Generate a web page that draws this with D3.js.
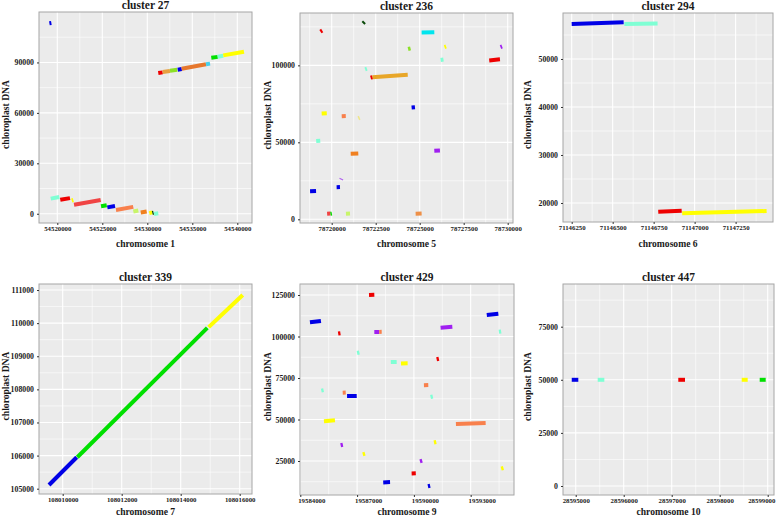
<!DOCTYPE html>
<html><head><meta charset="utf-8">
<script src="https://cdn.jsdelivr.net/npm/d3@7/dist/d3.min.js"></script>
<style>
body{margin:0;background:#fff}
text{font-family:"Liberation Serif","Times New Roman",serif;font-weight:bold;fill:#1a1a1a}
</style>
</head><body>
<svg id="chart" width="778" height="519"></svg>
<script>
// ---------- DATA ----------
const titles = ["cluster 27","cluster 236","cluster 294","cluster 339","cluster 429","cluster 447"];
const xLabels = ["chromosome 1","chromosome 5","chromosome 6","chromosome 7","chromosome 9","chromosome 10"];

const xTicks27 = [54520000,54525000,54530000,54535000,54540000];
const yTicks27 = [0,30000,60000,90000];
const xTicks236 = [78720000,78722500,78725000,78727500,78730000];
const yTicks236 = [0,50000,100000];
const xTicks294 = [71146250,71146500,71146750,71147000,71147250];
const yTicks294 = [20000,30000,40000,50000];
const xTicks339 = [108010000,108012000,108014000,108016000];
const yTicks339 = [105000,106000,107000,108000,109000,110000,111000];
const xTicks429 = [19584000,19587000,19590000,19593000];
const yTicks429 = [25000,50000,75000,100000,125000];
const xTicks447 = [28595000,28596000,28597000,28598000,28599000];
const yTicks447 = [0,25000,50000,75000];

const xDomains = [[54517967,54541633],[78718199,78730301],[71146197,71147478],[108009197,108016417],[19583984,19595288],[28594735,28599131]];
const yDomains = [[-5500,120000],[-2400,134000],[16040,59580],[104840,111182],[4518,131627],[-4237,95100]];

// segments: [colour key, chromosome start, chromosome end, chloroplast start, chloroplast end]
const seg27 = [
 ["blue",54519120,54519340,113300,113500],
 ["aqua",54519270,54520220,9000,10000],
 ["red",54520330,54521410,8300,9300],
 ["yellow",54521600,54521780,7900,8200],
 ["tomato",54521860,54524820,5300,8200],
 ["green",54524860,54525490,4500,5100],
 ["blue",54525560,54526410,3800,4600],
 ["coral",54526520,54528440,2200,4100],
 ["palegreen",54528450,54529000,1300,1900],
 ["orange",54529270,54529930,700,1300],
 ["yellow",54530220,54530550,400,800],
 ["darkgreen",54530560,54530700,450,650],
 ["aqua",54530750,54531220,-100,300],
 ["red",54531220,54531700,83700,84100],
 ["goldorange",54531710,54532520,84300,84900],
 ["yellowgreen",54532520,54533330,85000,85600],
 ["blue",54533380,54533820,85700,86100],
 ["chocolate",54533820,54536520,86300,88900],
 ["skyblue",54536520,54536970,88900,89300],
 ["green",54537110,54537820,92800,93300],
 ["aqua",54537820,54538440,93400,94000],
 ["yellow",54538440,54540740,94200,96300]
];
const seg236 = [
 ["darkgreen",78721780,78721860,127300,128200],
 ["red",78719360,78719460,121900,122600],
 ["cyan",78725110,78725830,121300,121500],
 ["yellow",78726410,78726500,111900,112300],
 ["purple",78729590,78729680,111900,112300],
 ["yellowgreen",78724340,78724480,110600,111000],
 ["aqua",78726190,78726350,103500,103800],
 ["red",78728950,78729560,103200,103900],
 ["aqua",78721900,78722000,97400,97800],
 ["goldenrod",78722310,78724320,92200,93900],
 ["red",78722210,78722310,92000,92300],
 ["blue",78724540,78724730,72600,72800],
 ["yellow",78719430,78719720,68700,68900],
 ["coral",78720570,78720800,67000,67100],
 ["khaki",78721510,78721590,65600,66000],
 ["aqua",78719120,78719350,50900,51100],
 ["orange",78721080,78721510,42500,42700],
 ["purple",78725830,78726150,44450,44650],
 ["mediumorchid",78720530,78720560,25800,26500],
 ["blue",78720280,78720470,20900,21000],
 ["blue",78718770,78719110,18300,18450],
 ["tomato",78719740,78719930,3550,3700],
 ["green",78719930,78720010,3550,3700],
 ["palegreen",78720810,78721040,3550,3700],
 ["sandy",78724770,78725110,3550,3700]
];
const seg294 = [
 ["blue",71146250,71146567,57300,57650],
 ["aqua",71146571,71146774,57300,57400],
 ["red",71146778,71146921,18200,18400],
 ["yellow",71146924,71147439,17850,18330]
];
const seg339 = [
 ["blue",108009536,108010475,105112,105950],
 ["green",108010495,108014902,105950,109855],
 ["yellow",108014949,108016102,109880,110852]
];
const seg429 = [
 ["blue",19584510,19585090,108600,109400],
 ["red",19587630,19587910,125000,125100],
 ["red",19586000,19586120,101800,102000],
 ["purple",19587910,19588170,102700,102750],
 ["coral",19588170,19588300,102750,102800],
 ["purple",19591410,19592030,105300,105900],
 ["blue",19593850,19594460,112950,113700],
 ["aqua",19594490,19594610,102800,103000],
 ["aqua",19587000,19587120,90100,90400],
 ["aqua",19588780,19589090,84600,84700],
 ["yellow",19589320,19589670,83800,83900],
 ["red",19591200,19591320,86300,86600],
 ["aqua",19585110,19585230,67400,67700],
 ["coral",19586240,19586400,66100,66200],
 ["blue",19586470,19586980,64100,64200],
 ["coral",19590530,19590760,70700,70800],
 ["aqua",19590880,19591000,63600,63900],
 ["yellow",19585250,19585830,48900,49500],
 ["coral",19592220,19593790,47300,47900],
 ["purple",19586130,19586250,34500,34800],
 ["yellow",19587300,19587420,29000,29400],
 ["yellow",19591060,19591180,36100,36400],
 ["purple",19590320,19590440,24800,25200],
 ["yellow",19594610,19594730,20400,20800],
 ["red",19589880,19590100,17500,17600],
 ["blue",19588380,19588740,12100,12300],
 ["blue",19590740,19590860,9800,10100]
];
const seg447 = [
 ["blue",28594917,28595054,50000,50000],
 ["aqua",28595458,28595596,50000,50000],
 ["red",28597137,28597277,50000,50000],
 ["yellow",28598458,28598583,50000,50000],
 ["green",28598833,28598958,50000,50000]
];

// ---------- STYLE / LAYOUT ----------
const palette = {
 blue:"#0000E6", aqua:"#7FFFD4", red:"#EE0000", tomato:"#F04444", yellow:"#FFFF00",
 green:"#00E000", coral:"#F8804C", palegreen:"#C8F56A", orange:"#F08020",
 darkgreen:"#0A4A0A", goldorange:"#E8A040", yellowgreen:"#8CE028", chocolate:"#E6782E",
 skyblue:"#48D0EC", cyan:"#00E5EE", goldenrod:"#E8A628", purple:"#A020F0",
 mediumorchid:"#B060F0", khaki:"#EEE68A", sandy:"#EE9048"
};
const layout = [
 {l:39,t:12,r:252,b:223,ylx:8.5,lblDx:0,xly:24},
 {l:300,t:13,r:513,b:223,ylx:271,lblDx:0,xly:24},
 {l:563,t:13,r:773,b:222,ylx:531,lblDx:0,xly:24.5},
 {l:39,t:284,r:252,b:494,ylx:8.5,lblDx:0,xly:21},
 {l:300,t:284,r:514,b:495,ylx:271,lblDx:11,xly:20},
 {l:563,t:284,r:774,b:495,ylx:531,lblDx:0,xly:20}
];
const segs = [seg27,seg236,seg294,seg339,seg429,seg447];
const xTickSets = [xTicks27,xTicks236,xTicks294,xTicks339,xTicks429,xTicks447];
const yTickSets = [yTicks27,yTicks236,yTicks294,yTicks339,yTicks429,yTicks447];

const svg = d3.select("#chart");

function minors(ticks, dom){
  const step = ticks[1]-ticks[0];
  const out = [];
  for(let i=-1;i<ticks.length;i++){
    const v = ticks[0]+step*i+step/2;
    if(v>Math.min(dom[0],dom[1]) && v<Math.max(dom[0],dom[1])) out.push(v);
  }
  return out;
}

layout.forEach((L,i)=>{
  const g = svg.append("g");
  const x = d3.scaleLinear().domain(xDomains[i]).range([L.l,L.r]);
  const y = d3.scaleLinear().domain(yDomains[i]).range([L.b,L.t]);
  const xt = xTickSets[i], yt = yTickSets[i];

  g.append("rect").attr("x",L.l).attr("y",L.t).attr("width",L.r-L.l).attr("height",L.b-L.t).attr("fill","#EBEBEB");

  g.selectAll(null).data(minors(xt,xDomains[i])).enter().append("line")
   .attr("x1",d=>x(d)).attr("x2",d=>x(d)).attr("y1",L.t).attr("y2",L.b)
   .attr("stroke","#fff").attr("stroke-width",0.6);
  g.selectAll(null).data(minors(yt,yDomains[i])).enter().append("line")
   .attr("y1",d=>y(d)).attr("y2",d=>y(d)).attr("x1",L.l).attr("x2",L.r)
   .attr("stroke","#fff").attr("stroke-width",0.6);
  g.selectAll(null).data(xt).enter().append("line")
   .attr("x1",d=>x(d)).attr("x2",d=>x(d)).attr("y1",L.t).attr("y2",L.b)
   .attr("stroke","#fff").attr("stroke-width",1.1);
  g.selectAll(null).data(yt).enter().append("line")
   .attr("y1",d=>y(d)).attr("y2",d=>y(d)).attr("x1",L.l).attr("x2",L.r)
   .attr("stroke","#fff").attr("stroke-width",1.1);

  g.selectAll(null).data(segs[i]).enter().append("line")
   .attr("x1",d=>x(d[1])).attr("x2",d=>x(d[2]))
   .attr("y1",d=>y(d[3])).attr("y2",d=>y(d[4]))
   .attr("stroke",d=>palette[d[0]]).attr("stroke-width",4).attr("stroke-linecap","butt");

  g.append("rect").attr("x",L.l).attr("y",L.t).attr("width",L.r-L.l).attr("height",L.b-L.t)
   .attr("fill","none").attr("stroke","#A6A6A6").attr("stroke-width",1);

  const ax = g.append("g").attr("transform",`translate(0,${L.b})`)
    .call(d3.axisBottom(x).tickValues(xt).tickSize(2).tickPadding(1).tickFormat(d3.format("d")));
  ax.select(".domain").remove();
  ax.selectAll("line").attr("stroke","#333");
  ax.selectAll("text").attr("font-size","6.8px").attr("dx",L.lblDx)
    .style("font-family",'"Liberation Serif",serif').style("font-weight","bold").attr("fill","#1a1a1a");
  // keep tick labels inside the picture
  ax.selectAll("text").each(function(){
    const bb = this.getBBox();
    const tx = +this.parentNode.getAttribute("transform").match(/translate\(([-\d.]+)/)[1];
    const over = tx + bb.x + bb.width - 776;
    if(over>0) d3.select(this).attr("dx", L.lblDx - over);
  });

  const ay = g.append("g").attr("transform",`translate(${L.l},0)`)
    .call(d3.axisLeft(y).tickValues(yt).tickSize(2).tickPadding(3).tickFormat(d3.format("d")));
  ay.select(".domain").remove();
  ay.selectAll("line").attr("stroke","#333");
  ay.selectAll("text").attr("font-size","7.8px")
    .style("font-family",'"Liberation Serif",serif').style("font-weight","bold").attr("fill","#1a1a1a");

  g.append("text").attr("x",(L.l+L.r)/2).attr("y",L.t-3.5).attr("text-anchor","middle")
   .attr("font-size","11.5px").text(titles[i]);
  g.append("text").attr("x",(L.l+L.r)/2).attr("y",L.b+L.xly).attr("text-anchor","middle")
   .attr("font-size","9.6px").text(xLabels[i]);
  g.append("text").attr("transform",`translate(${L.ylx},${(L.t+L.b)/2-3}) rotate(-90)`)
   .attr("text-anchor","middle").attr("font-size","9.6px").text("chloroplast DNA");
});
</script>
</body></html>
